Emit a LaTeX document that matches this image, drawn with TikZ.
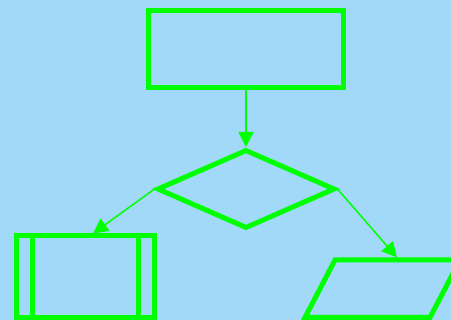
\documentclass[tikz,border=0pt]{standalone}
\usetikzlibrary{arrows.meta,shapes.geometric}
\definecolor{bg}{HTML}{A2D8F8}
\definecolor{lime}{HTML}{00FF00}
\begin{document}
\begin{tikzpicture}[x=1pt,y=-1pt,
  shapeline/.style={draw=lime,line width=5pt,inner sep=0pt},
  flow/.style={draw=lime,line width=1.5pt,-{Triangle[length=15pt,width=15pt]}}]
  % canvas
  \fill[bg] (0,0) rectangle (451,320);
  \useasboundingbox (0,0) rectangle (451,320);
  % process box
  \node[shapeline,rectangle,minimum width=195pt,minimum height=77pt] (start) at (246,49) {};
  % decision
  \node[shapeline,diamond,minimum width=178pt,minimum height=79pt] (check) at (246,189) {};
  % predefined process (clipped by the lower edge)
  \node[shapeline,rectangle,minimum width=138pt,minimum height=81.5pt] (sub) at (85,276.75) {};
  \draw[lime,line width=5pt] (32.5,236) -- (32.5,317.5);
  \draw[lime,line width=5pt] (138.5,236) -- (138.5,317.5);
  % input/output parallelogram
  \draw[shapeline,line join=miter] (305,317.5) -- (335,260) -- (460,260) -- (430,317.5) -- cycle;
  \coordinate (ioin) at (397,257.5);
  \coordinate (subin) at (93,233.5);
  % connectors
  \draw[flow] (start.south) -- (check.north);
  \draw[flow] (check.west) -- (subin);
  \draw[flow] (check.east) -- (ioin);
\end{tikzpicture}
\end{document}
